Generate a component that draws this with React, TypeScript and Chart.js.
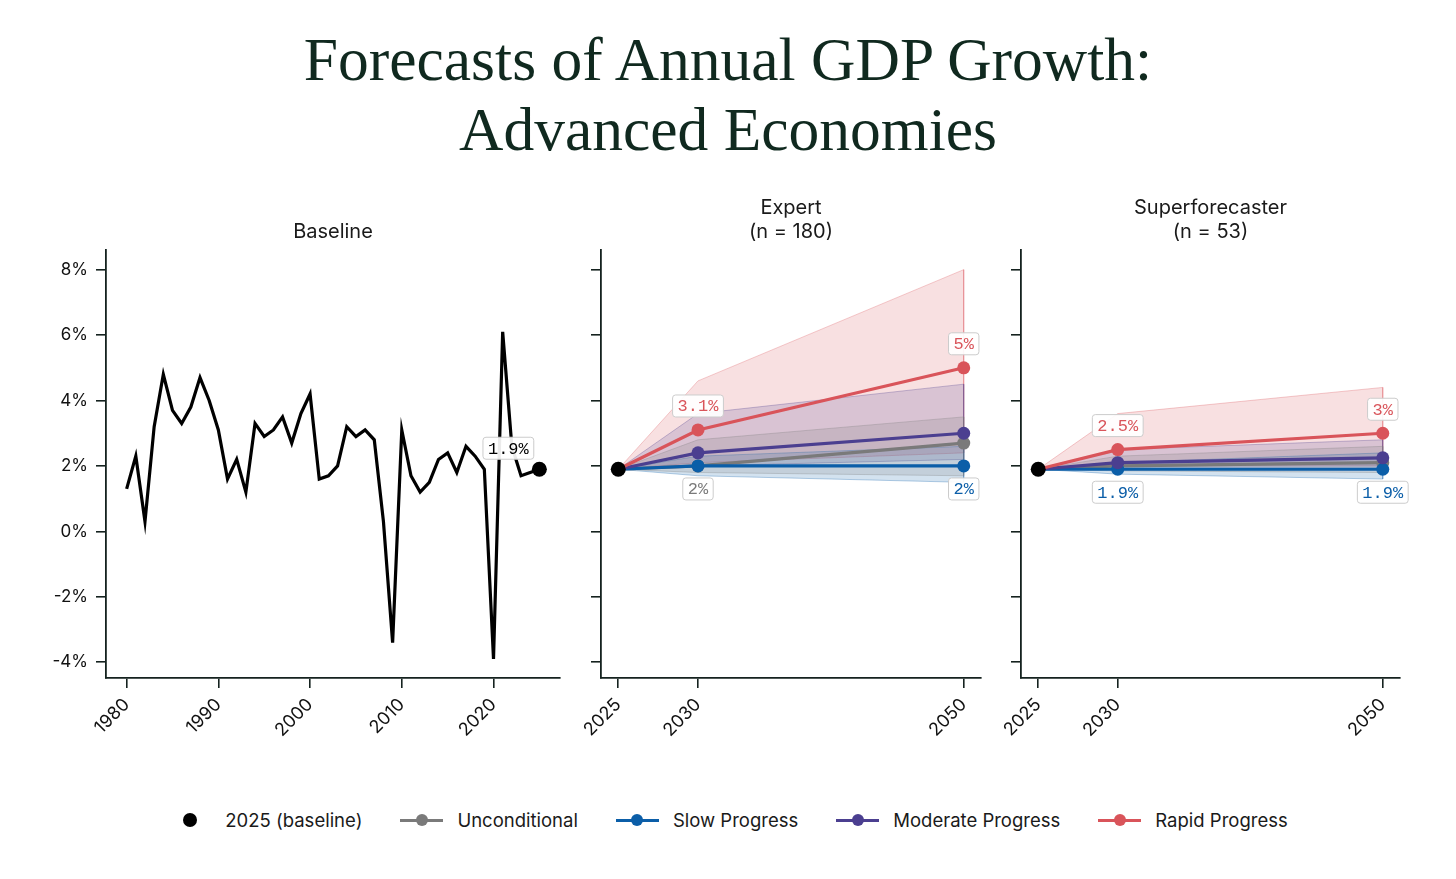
import React, { useEffect, useRef } from 'react';
import { Chart, ChartConfiguration, registerables } from 'chart.js';

Chart.register(...registerables);

// Baseline: annual GDP growth of advanced economies (%)
const historyYears = [
  1980, 1981, 1982, 1983, 1984, 1985, 1986, 1987, 1988, 1989,
  1990, 1991, 1992, 1993, 1994, 1995, 1996, 1997, 1998, 1999,
  2000, 2001, 2002, 2003, 2004, 2005, 2006, 2007, 2008, 2009,
  2010, 2011, 2012, 2013, 2014, 2015, 2016, 2017, 2018, 2019,
  2020, 2021, 2022, 2023, 2024, 2025,
];
const historyGrowth = [
  1.3, 2.3, 0.3, 3.2, 4.8, 3.7, 3.3, 3.8, 4.7, 4.0,
  3.1, 1.6, 2.2, 1.2, 3.3, 2.9, 3.1, 3.5, 2.7, 3.6,
  4.2, 1.6, 1.7, 2.0, 3.2, 2.9, 3.1, 2.8, 0.3, -3.4,
  3.1, 1.7, 1.2, 1.5, 2.2, 2.4, 1.8, 2.6, 2.3, 1.9,
  -3.9, 6.1, 2.6, 1.7, 1.8, 1.9,
];
const historyTicks = [1980, 1990, 2000, 2010, 2020];

// Forecast horizon (the start point sits one year left of 2030's spacing, labelled 2025)
const forecastX = [2024, 2030, 2050];
const forecastTickLabels = ['2025', '2030', '2050'];
const yTicks = [-4, -2, 0, 2, 4, 6, 8];

const baselineValue = historyGrowth[historyGrowth.length - 1];

// Expert medians and ranges
const expertUnconditional = [1.9, 2.0, 2.7];
const expertUnconditionalLow = [1.9, 1.8, 1.7];
const expertUnconditionalHigh = [1.9, 2.8, 3.5];
const expertSlow = [1.9, 2.0, 2.0];
const expertSlowLow = [1.9, 1.7, 1.5];
const expertSlowHigh = [1.9, 2.3, 2.6];
const expertModerate = [1.9, 2.4, 3.0];
const expertModerateLow = [1.9, 2.0, 2.2];
const expertModerateHigh = [1.9, 3.6, 4.5];
const expertRapid = [1.9, 3.1, 5.0];
const expertRapidLow = [1.9, 2.1, 2.4];
const expertRapidHigh = [1.9, 4.6, 8.0];

// Superforecaster medians and ranges
const superUnconditional = [1.9, 2.0, 2.1];
const superUnconditionalLow = [1.9, 1.85, 1.8];
const superUnconditionalHigh = [1.9, 2.3, 2.6];
const superSlow = [1.9, 1.9, 1.9];
const superSlowLow = [1.9, 1.75, 1.6];
const superSlowHigh = [1.9, 2.1, 2.4];
const superModerate = [1.9, 2.1, 2.25];
const superModerateLow = [1.9, 1.9, 1.9];
const superModerateHigh = [1.9, 2.5, 2.8];
const superRapid = [1.9, 2.5, 3.0];
const superRapidLow = [1.9, 2.0, 2.0];
const superRapidHigh = [1.9, 3.6, 4.4];

const seriesLabels = ['2025 (baseline)', 'Unconditional', 'Slow Progress', 'Moderate Progress', 'Rapid Progress'];
const seriesColors = ['#000000', '#7a7a7a', '#0b5ea8', '#4b3f90', '#d9545a'];

const axisColor = '#15221f';
const sansFamily = 'Inter, "Noto Sans", sans-serif';

const hexA = (hex: string, a: number) => {
  const n = parseInt(hex.slice(1), 16);
  return `rgba(${(n >> 16) & 255},${(n >> 8) & 255},${n & 255},${a})`;
};

const fmtPct = (v: number) => `${Math.round(v * 10) / 10}%`;

interface Callout { ds: number; idx: number; dx: number; dy: number }

const makeCalloutPlugin = (items: Callout[]) => ({
  id: 'callouts',
  afterDatasetsDraw(chart: Chart) {
    const ctx = chart.ctx;
    ctx.save();
    ctx.font = '17px "Liberation Mono", "DejaVu Sans Mono", monospace';
    ctx.textAlign = 'center';
    ctx.textBaseline = 'middle';
    items.forEach((c) => {
      const el = chart.getDatasetMeta(c.ds).data[c.idx];
      const ds = chart.data.datasets[c.ds] as any;
      const raw = ds.data[c.idx] as { x: number; y: number };
      const text = fmtPct(raw.y);
      const w = ctx.measureText(text).width + 10;
      const h = 22;
      const cx = el.x + c.dx;
      const cy = el.y + c.dy;
      ctx.beginPath();
      ctx.roundRect(cx - w / 2, cy - h / 2, w, h, 3);
      ctx.fillStyle = 'rgba(255,255,255,0.92)';
      ctx.fill();
      ctx.strokeStyle = '#cccccc';
      ctx.lineWidth = 1;
      ctx.stroke();
      ctx.fillStyle = ds.pointBackgroundColor;
      ctx.fillText(text, cx, cy + 1);
    });
    ctx.restore();
  },
});

const yScale = (showLabels: boolean, width: number) => ({
  type: 'linear' as const,
  min: -4.48,
  max: 8.6,
  afterBuildTicks: (s: any) => {
    s.ticks = yTicks.map((v) => ({ value: v }));
  },
  afterFit: (s: any) => {
    s.width = width;
  },
  grid: { drawOnChartArea: false, drawTicks: true, tickLength: 10, color: axisColor, lineWidth: 1.6 },
  border: { display: true, color: axisColor, width: 1.8 },
  ticks: {
    padding: 8,
    color: '#111111',
    font: { family: sansFamily, size: 17 },
    callback: (v: any) => (showLabels ? `${v}%` : ''),
  },
});

const xScale = (min: number, max: number, ticks: number[], label: (v: number) => string) => ({
  type: 'linear' as const,
  min,
  max,
  afterBuildTicks: (s: any) => {
    s.ticks = ticks.map((v) => ({ value: v }));
  },
  afterFit: (s: any) => {
    s.height = 82;
  },
  grid: { drawOnChartArea: false, drawTicks: true, tickLength: 10, color: axisColor, lineWidth: 1.6 },
  border: { display: true, color: axisColor, width: 1.8 },
  ticks: {
    autoSkip: false,
    minRotation: 45,
    maxRotation: 45,
    padding: 6,
    color: '#111111',
    font: { family: sansFamily, size: 18 },
    callback: (v: any) => label(v),
  },
});

const titleOpts = (text: string[]) => ({
  display: true,
  text,
  fullSize: false,
  color: '#1a1a1a',
  font: { family: sansFamily, size: 20, weight: 'normal' as const, lineHeight: 1.2 },
  padding: { top: 6, bottom: 6 },
});

const toPoints = (vals: number[]) => vals.map((v, i) => ({ x: forecastX[i], y: v }));
const bandPoints = (low: number[], high: number[]) => [
  ...high.map((v, i) => ({ x: forecastX[i], y: v })),
  ...low.map((v, i) => ({ x: forecastX[i], y: v })).reverse(),
];

const baselineConfig = (): ChartConfiguration => ({
  type: 'line',
  data: {
    datasets: [
      {
        data: historyYears.map((y, i) => ({ x: y, y: historyGrowth[i] })),
        borderColor: '#000000',
        borderWidth: 3.2,
        pointRadius: 0,
        order: 2,
      },
      {
        data: [{ x: historyYears[historyYears.length - 1], y: baselineValue }],
        showLine: false,
        pointRadius: 7.5,
        pointBorderWidth: 0,
        pointBackgroundColor: '#000000',
        backgroundColor: '#000000',
        order: 1,
      },
    ],
  },
  options: {
    animation: false,
    responsive: false,
    events: [],
    layout: { padding: { top: 0, right: 15, bottom: 0, left: 0 } },
    plugins: {
      legend: { display: false },
      tooltip: { enabled: false },
      title: titleOpts(['', 'Baseline']),
    },
    scales: {
      x: xScale(1977.75, 2027.25, historyTicks, (v) => String(v)),
      y: yScale(true, 76),
    },
  } as any,
  plugins: [makeCalloutPlugin([{ ds: 1, idx: 0, dx: -31, dy: -21 }])],
});

const forecastConfig = (
  title: string[],
  medians: number[][],
  lows: number[][],
  highs: number[][],
  callouts: Callout[],
): ChartConfiguration => {
  const lines = medians.map((vals, k) => ({
    data: toPoints(vals),
    borderColor: seriesColors[k + 1],
    backgroundColor: seriesColors[k + 1],
    pointBackgroundColor: seriesColors[k + 1],
    borderWidth: 3.2,
    pointRadius: 6.5,
    pointBorderWidth: 0,
    order: 5 - k,
  }));
  const bands = medians.map((_, k) => ({
    data: bandPoints(lows[k], highs[k]),
    borderColor: hexA(seriesColors[k + 1], 0.3),
    backgroundColor: hexA(seriesColors[k + 1], 0.18),
    borderWidth: 1,
    pointRadius: 0,
    fill: 'shape',
    order: 10 + k,
  }));
  return {
    type: 'line',
    data: {
      datasets: [
        {
          data: [{ x: forecastX[0], y: baselineValue }],
          showLine: false,
          pointRadius: 7.5,
          pointBorderWidth: 0,
          pointBackgroundColor: '#000000',
          backgroundColor: '#000000',
          order: 0,
        },
        ...lines,
        ...bands,
      ] as any,
    },
    options: {
      animation: false,
      responsive: false,
      events: [],
      layout: { padding: { top: 0, right: 10, bottom: 0, left: 0 } },
      plugins: {
        legend: { display: false },
        tooltip: { enabled: false },
        title: titleOpts(title),
      },
      scales: {
        x: xScale(2022.7, 2051.3, forecastX, (v) => forecastTickLabels[forecastX.indexOf(v)] ?? ''),
        y: yScale(false, 46),
      },
    } as any,
    plugins: [makeCalloutPlugin(callouts)],
  };
};

interface PanelProps {
  make: () => ChartConfiguration;
  left: number;
  top: number;
  width: number;
  height: number;
}

const ChartPanel: React.FC<PanelProps> = ({ make, left, top, width, height }) => {
  const canvasRef = useRef<HTMLCanvasElement | null>(null);
  const chartRef = useRef<Chart | null>(null);

  useEffect(() => {
    if (canvasRef.current) {
      chartRef.current = new Chart(canvasRef.current, make());
    }
    return () => {
      if (chartRef.current) {
        chartRef.current.destroy();
        chartRef.current = null;
      }
    };
  }, [make]);

  return (
    <canvas
      ref={canvasRef}
      width={width}
      height={height}
      style={{ position: 'absolute', left, top, width, height }}
    />
  );
};

const makeExpert = () =>
  forecastConfig(
    ['Expert', '(n = 180)'],
    [expertUnconditional, expertSlow, expertModerate, expertRapid],
    [expertUnconditionalLow, expertSlowLow, expertModerateLow, expertRapidLow],
    [expertUnconditionalHigh, expertSlowHigh, expertModerateHigh, expertRapidHigh],
    [
      { ds: 4, idx: 1, dx: 0, dy: -24 },
      { ds: 4, idx: 2, dx: 0, dy: -24 },
      { ds: 1, idx: 1, dx: 0, dy: 23 },
      { ds: 2, idx: 2, dx: 0, dy: 23 },
    ],
  );

const makeSuper = () =>
  forecastConfig(
    ['Superforecaster', '(n = 53)'],
    [superUnconditional, superSlow, superModerate, superRapid],
    [superUnconditionalLow, superSlowLow, superModerateLow, superRapidLow],
    [superUnconditionalHigh, superSlowHigh, superModerateHigh, superRapidHigh],
    [
      { ds: 4, idx: 1, dx: 0, dy: -24 },
      { ds: 4, idx: 2, dx: 0, dy: -24 },
      { ds: 2, idx: 1, dx: 0, dy: 23 },
      { ds: 2, idx: 2, dx: 0, dy: 23 },
    ],
  );

const App: React.FC = () => {
  return (
    <div style={{ position: 'absolute', left: 0, top: 0, width: 1456, height: 879, background: '#ffffff', overflow: 'hidden' }}>
      <div
        style={{
          position: 'absolute',
          top: 24,
          left: 0,
          width: 1456,
          textAlign: 'center',
          fontFamily: '"Liberation Serif", "DejaVu Serif", serif',
          fontSize: 61.5,
          lineHeight: '70px',
          color: '#10291f',
        }}
      >
        Forecasts of Annual GDP Growth:
        <br />
        Advanced Economies
      </div>

      <ChartPanel make={baselineConfig} left={30} top={190} width={545} height={570} />
      <ChartPanel make={makeExpert} left={555} top={190} width={436} height={570} />
      <ChartPanel make={makeSuper} left={975} top={190} width={435} height={570} />

      <div
        style={{
          position: 'absolute',
          top: 806,
          left: 0,
          width: 1456,
          height: 28,
          display: 'flex',
          justifyContent: 'center',
          alignItems: 'center',
          gap: 38,
          fontFamily: sansFamily,
          fontSize: 18.5,
          color: '#1a1a1a',
        }}
      >
        {seriesLabels.map((label, i) => (
          <div key={label} style={{ display: 'flex', alignItems: 'center', gap: 14 }}>
            <div style={{ position: 'relative', width: 43, height: 14 }}>
              {i > 0 && (
                <div
                  style={{ position: 'absolute', left: 0, top: 5.5, width: 43, height: 3, background: seriesColors[i] }}
                />
              )}
              <div
                style={{
                  position: 'absolute',
                  left: i > 0 ? 15.5 : 14.5,
                  top: i > 0 ? 1 : 0,
                  width: i > 0 ? 12 : 14,
                  height: i > 0 ? 12 : 14,
                  borderRadius: '50%',
                  background: seriesColors[i],
                }}
              />
            </div>
            <span>{label}</span>
          </div>
        ))}
      </div>
    </div>
  );
};

export default App;
